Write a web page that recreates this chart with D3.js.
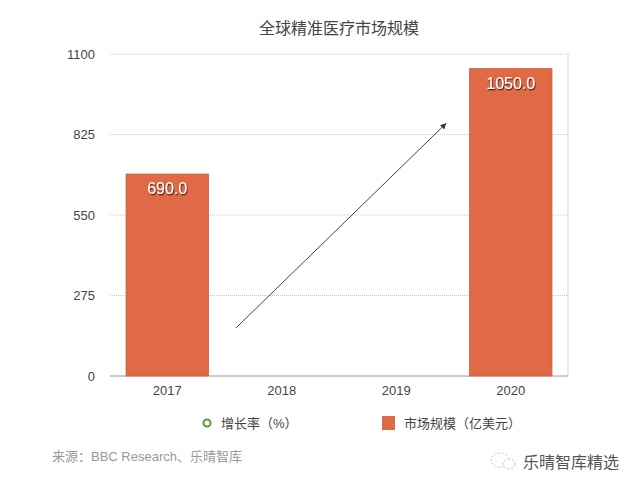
<!DOCTYPE html>
<html lang="zh">
<head>
<meta charset="utf-8">
<script src="https://d3js.org/d3.v7.min.js"></script>
<style>
  body { margin: 0; background: #fff; }
  text { font-family: "Liberation Sans", "Noto Sans CJK SC", sans-serif; }
</style>
</head>
<body>
<script>
// data
var years = ["2017", "2018", "2019", "2020"];
var marketSize = [690, null, null, 1050];
var yTicks = [0, 275, 550, 825, 1100];
// trend arrow, in (category index, value) space
var arrowFrom = [0.6, 164];
var arrowTo = [2.43, 861];

var width = 640, height = 490;
var margin = {left: 110, right: 72, top: 54, bottom: 114};
var plotW = width - margin.left - margin.right,
    plotH = height - margin.top - margin.bottom;

var svg = d3.select("body").append("svg")
    .attr("width", width)
    .attr("height", height);

var defs = svg.append("defs");
defs.append("marker")
    .attr("id", "arrowHead")
    .attr("viewBox", "0 0 10 10")
    .attr("refX", 8).attr("refY", 5)
    .attr("markerWidth", 6).attr("markerHeight", 6)
    .attr("orient", "auto")
  .append("path")
    .attr("d", "M0,0 L10,5 L0,10 z")
    .style("fill", "#333");

var shadow = defs.append("filter").attr("id", "txtShadow")
    .attr("x", "-20%").attr("y", "-20%").attr("width", "140%").attr("height", "150%");
shadow.append("feDropShadow")
    .attr("dx", 0.8).attr("dy", 1.3).attr("stdDeviation", 0.7)
    .attr("flood-color", "#4a1e10").attr("flood-opacity", 1);

var g = svg.append("g").attr("transform", "translate(" + margin.left + "," + margin.top + ")");

var x = d3.scaleBand().domain(years).range([0, plotW]).paddingInner(0.28).paddingOuter(0.14);
var xi = d3.scaleLinear().domain([-0.5, years.length - 0.5]).range([0, plotW]);
var y = d3.scaleLinear().domain([0, 1100]).range([plotH, 0]);

// title
svg.append("text")
    .attr("x", margin.left + plotW / 2).attr("y", 34)
    .attr("text-anchor", "middle")
    .style("font-size", "16px")
    .style("fill", "#444")
    .text("全球精准医疗市场规模");

// grid
g.selectAll(".grid")
    .data(yTicks.filter(function(d){ return d > 0; }))
    .enter().append("line")
    .attr("x1", 0).attr("x2", plotW)
    .attr("y1", function(d){ return y(d); })
    .attr("y2", function(d){ return y(d); })
    .style("stroke", "#c8c8c8")
    .style("stroke-width", 1)
    .style("stroke-dasharray", "1,1");

// right border + baseline
g.append("line")
    .attr("x1", plotW).attr("x2", plotW)
    .attr("y1", 0).attr("y2", plotH)
    .style("stroke", "#d4d4d4");
g.append("line")
    .attr("x1", 0).attr("x2", plotW)
    .attr("y1", plotH).attr("y2", plotH)
    .style("stroke", "#bbb").style("stroke-width", 1.5);

// y axis labels
var yAxis = d3.axisLeft(y).tickValues(yTicks).tickFormat(d3.format("d")).tickSize(0).tickPadding(15);
g.append("g").call(yAxis)
    .call(function(s){ s.select(".domain").remove(); })
    .selectAll("text")
    .style("font-size", "13px")
    .style("fill", "#444")
    .style("font-family", "Liberation Sans, sans-serif");

// x axis labels
var xAxis = d3.axisBottom(x).tickSize(0).tickPadding(10);
g.append("g").attr("transform", "translate(0," + plotH + ")").call(xAxis)
    .call(function(s){ s.select(".domain").remove(); })
    .selectAll("text")
    .style("font-size", "13px")
    .style("fill", "#444")
    .style("font-family", "Liberation Sans, sans-serif");

// bars
var barData = years.map(function(d, i){ return {year: d, value: marketSize[i]}; })
    .filter(function(d){ return d.value != null; });

g.selectAll(".bar")
    .data(barData)
    .enter().append("rect")
    .attr("class", "bar")
    .attr("x", function(d){ return x(d.year); })
    .attr("y", function(d){ return y(d.value); })
    .attr("width", x.bandwidth())
    .attr("height", function(d){ return plotH - y(d.value); })
    .style("fill", "#e06a45")
    .style("stroke", "#cf5e3c")
    .style("stroke-width", 0.8);

g.selectAll(".barLabel")
    .data(barData)
    .enter().append("text")
    .attr("x", function(d){ return x(d.year) + x.bandwidth() / 2; })
    .attr("y", function(d){ return y(d.value) + 20; })
    .attr("text-anchor", "middle")
    .attr("filter", "url(#txtShadow)")
    .style("font-size", "16px")
    .style("fill", "#fff")
    .text(function(d){ return d.value.toFixed(1); });

// arrow
g.append("line")
    .attr("x1", xi(arrowFrom[0])).attr("y1", y(arrowFrom[1]))
    .attr("x2", xi(arrowTo[0])).attr("y2", y(arrowTo[1]))
    .style("stroke", "#444")
    .style("stroke-width", 1)
    .attr("marker-end", "url(#arrowHead)");

// legend
var leg = svg.append("g").attr("transform", "translate(0,423)");
leg.append("circle")
    .attr("cx", 207).attr("cy", 0).attr("r", 3.5)
    .style("fill", "#fff").style("stroke", "#5a9a3a").style("stroke-width", 2);
leg.append("text")
    .attr("x", 221).attr("y", 5)
    .style("font-size", "13px").style("fill", "#444")
    .text("增长率（%）");
leg.append("rect")
    .attr("x", 382).attr("y", -7).attr("width", 13).attr("height", 14)
    .style("fill", "#e06a45");
leg.append("text")
    .attr("x", 404).attr("y", 5)
    .style("font-size", "13px").style("fill", "#444")
    .text("市场规模（亿美元）");

// source
svg.append("text")
    .attr("x", 52).attr("y", 461)
    .style("font-size", "13px").style("fill", "#999")
    .text("来源：BBC Research、乐晴智库");

// watermark
var wm = svg.append("g").attr("transform", "translate(0,462)");
wm.append("ellipse").attr("cx", 500).attr("cy", -2).attr("rx", 9).attr("ry", 7)
    .style("fill", "none").style("stroke", "#bbb").style("stroke-width", 1).style("stroke-dasharray", "2,2");
wm.append("ellipse").attr("cx", 509).attr("cy", 2).attr("rx", 6).attr("ry", 5)
    .style("fill", "#fff").style("stroke", "#bbb").style("stroke-width", 1).style("stroke-dasharray", "2,2");
wm.append("text")
    .attr("x", 523).attr("y", 468 - 462)
    .style("font-size", "16px").style("fill", "#555")
    .text("乐晴智库精选");
</script>
</body>
</html>
